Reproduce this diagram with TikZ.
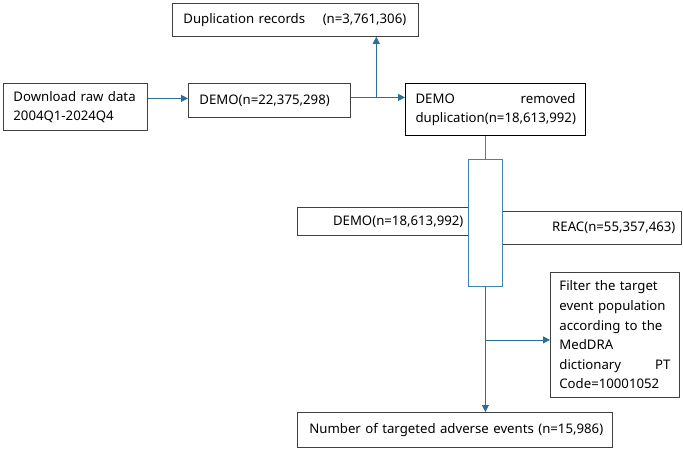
\documentclass[tikz,border=0pt]{standalone}
\usepackage{fontspec}
\setmainfont{Noto Sans}
\usetikzlibrary{arrows.meta,calc}
\definecolor{arrc}{HTML}{2A6F97}
\definecolor{tallc}{HTML}{3E86AE}
\definecolor{boxc}{HTML}{404040}
\tikzset{
  box/.style={draw=boxc, line width=0.8pt, rectangle, anchor=north west, font=\fontsize{13.2}{19}\selectfont, inner ysep=0pt},
  arr/.style={draw=arrc, line width=0.8pt, -{Triangle[length=7pt,width=7pt]}},
  link/.style={draw=tallc, line width=0.8pt}
}
\begin{document}
\begin{tikzpicture}[x=1pt,y=-1pt]
\useasboundingbox (0,0) rectangle (683,450);
\node[box, minimum width=246pt, minimum height=33pt, text width=230pt, inner xsep=8pt, align=left] (dup) at (172,3) {\hspace*{3pt}\mbox{Duplication records\quad\ (n=3,761,306)}};
\node[box, minimum width=144pt, minimum height=47pt, text width=128pt, inner xsep=8pt, align=left] (dl) at (3,83) {\hspace*{2pt}\mbox{Download raw data}\\\hspace*{2pt}2004Q1-2024Q4};
\node[box, minimum width=162pt, minimum height=34pt, text width=146pt, inner xsep=8pt, align=left] (d1) at (188,83) {\hspace*{3pt}\mbox{DEMO(n=22,375,298)}};
\node[box, line width=1.2pt, draw=black, minimum width=180pt, minimum height=52pt, text width=160pt, inner xsep=10pt, align=left] (rem) at (405,83) {\makebox[\linewidth][s]{DEMO \hfill removed}\\\mbox{duplication(n=18,613,992)}};
\node[box, minimum width=172pt, minimum height=28pt, text width=160pt, inner xsep=6pt, align=right] (d2) at (297,207) {\mbox{DEMO(n=18,613,992)}\hspace*{9pt}};
\node[box, minimum width=179pt, minimum height=33pt, text width=167pt, inner xsep=6pt, align=right] (reac) at (502,211) {\mbox{REAC(n=55,357,463)}\hspace*{6pt}};
\node[box, draw=tallc, fill=white, minimum width=34pt, minimum height=127pt, inner sep=0pt] (tall) at (468,159) {};
\node[box, minimum width=129pt, minimum height=125pt, text width=111pt, inner xsep=9pt, align=left, font=\fontsize{13.2}{19.6}\selectfont] (filt) at (550,272) {\makebox[\linewidth][s]{Filter the target}\\\makebox[\linewidth][s]{event population}\\\makebox[\linewidth][s]{according to the}\\MedDRA\\\makebox[\linewidth][s]{dictionary \hfill PT}\\Code=10001052};
\node[box, minimum width=315pt, minimum height=35pt, text width=303pt, inner xsep=6pt, align=left] (num) at (297,412) {\hspace*{6pt}\mbox{Number of targeted adverse events (n=15,986)}};
\draw[arr] ($(dl.east |- d1.west)+(0,-2)$) -- ($(d1.west)+(0,-2)$);
\draw[arr] ($(d1.east)+(0,-3)$) -- ($(d1.east -| rem.west)+(0,-3)$);
\coordinate (j1) at ($(d1.east)!0.47!(d1.east -| rem.west)+(0,-3)$);
\draw[arr] (j1) -- (j1 |- dup.south);
\draw[link] (tall.north |- rem.south) -- (tall.north);
\draw[arr] (tall.south) -- (tall.south |- num.north);
\draw[arr] ($(tall.south |- filt.west)+(0,5)$) -- ($(filt.west)+(0,5)$);
\end{tikzpicture}
\end{document}
